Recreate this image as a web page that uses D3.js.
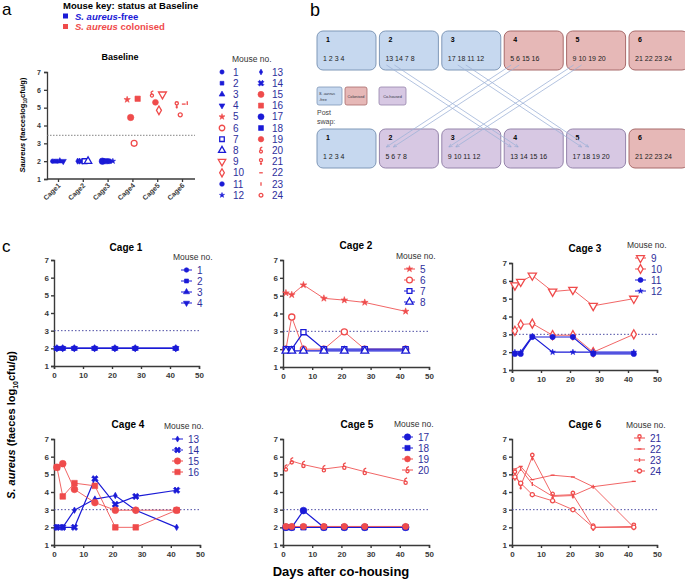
<!DOCTYPE html>
<html><head><meta charset="utf-8">
<script src="https://cdn.jsdelivr.net/npm/d3@7"></script>
<style>body{margin:0;background:#fff;} svg{display:block;font-family:"Liberation Sans",Arial,sans-serif;}</style>
</head><body><svg id="chart" width="685" height="581"></svg>
<script>
// ---------------- DATA ----------------
const freeMice = [1,2,3,4,7,8,11,12,13,14,17,18];
// panel a: baseline
const baselineCages = ["Cage1","Cage2","Cage3","Cage4","Cage5","Cage6"];
const baselineMice = [[1,2,3,4],[13,14,7,8],[17,18,11,12],[5,15,6,16],[20,19,10,9],[21,24,22,23]];
const baselineValues = [[2,2,2,2],[2,2,2,2],[2,2,2,2],[5.45,4.45,3.0,5.5],[5.75,5.3,4.85,5.75],[5.15,4.6,5.2,5.25]];
const baselineThreshold = 3.45;
// panel b: housing diagram
const housingCages = ["1","2","3","4","5","6"];
const topMice = [[1,2,3,4],[13,14,7,8],[17,18,11,12],[5,6,15,16],[9,10,19,20],[21,22,23,24]];
const bottomMice = [[1,2,3,4],[5,6,7,8],[9,10,11,12],[13,14,15,16],[17,18,19,20],[21,22,23,24]];
const topStatus = ["free","free","free","col","col","col"];
const bottomStatus = ["free","co","co","co","co","col"];
const swapFrom = [2,3,4,5];
const swapTo = [4,5,2,3];
const statusLabels = ["S. aureus -free","Colonised","Co-housed"];
// panel c: time course
const days = [1,3,7,14,21,28,42];
const cageTitles = ["Cage 1","Cage 2","Cage 3","Cage 4","Cage 5","Cage 6"];
const cageMice = [[1,2,3,4],[5,6,7,8],[9,10,11,12],[13,14,15,16],[17,18,19,20],[21,22,23,24]];
const cage1Values = [[2,2,2,2,2,2,2],[2,2,2,2,2,2,2],[2,2,2,2,2,2,2],[2,2,2,2,2,2,2]];
const cage2Values = [[5.15,5.05,5.6,4.85,4.75,4.62,4.12],[2,3.8,2,2,2.97,2,2],[2,2,2.95,2,2,2,2],[1.9,1.9,1.9,1.9,1.9,1.9,1.9]];
const cage3Values = [[5.75,5.95,6.3,5.4,5.5,4.6,5.0],[3.2,3.55,3.6,2.95,2.95,2.0,3.0],[1.9,1.9,2.85,2.85,2.85,1.9,1.9],[2,2,2.9,2,2,2,2]];
const cage4Values = [[2,2,2.97,3.6,3.8,2.97,2.0],[2,2,2,4.75,3.3,3.75,4.1],[5.4,5.6,4.15,3.4,2.97,2.97,2.97],[5.4,3.75,4.5,4.35,2.0,2.0,2.97]];
const cage5Values = [[2,2,2.95,2,2,2,2],[2,2,2,2,2,2,2],[2.05,2.05,2.05,2.05,2.05,2.05,2.05],[5.35,5.75,5.55,5.3,5.45,5.15,4.6]];
const cage6Values = [[5.05,4.35,6.0,3.8,3.85,2.0,2.05],[5.3,5.45,4.7,4.95,4.85,4.3,4.6],[4.75,5.3,4.45,3.75,3.8,4.3,2.0],[4.85,4.5,3.85,3.5,3.0,2.0,2.0]];
const cageValues = [cage1Values,cage2Values,cage3Values,cage4Values,cage5Values,cage6Values];
const threshold = 3;
const yTicks = [1,2,3,4,5,6,7];
const xTicks = [0,10,20,30,40,50];

// ---------------- STYLE ----------------
const RED = "#ef4b4b", BLUE = "#1a1ad6", LEG = "#2e2e9c", AX = "#3a3a3a";
const colorOf = id => freeMice.includes(id) ? BLUE : RED;
const markerSpec = {
 1:["circle",18,true],2:["square",18,true],3:["triangle",18,true],4:["triangleDown",18,true],
 5:["star",14,true],6:["circle",30,false],7:["square",26,false],8:["triangle",26,false],
 9:["triangleDown",30,false],10:["diamond",24,false],11:["circle",22,true],12:["star",10,true],
 13:["diamond",12,true],14:["x",26,true],15:["circle",36,true],16:["square",32,true],
 17:["circle",36,true],18:["square",30,true],19:["circle",30,true],20:["delta",30,false],
 21:["pin",30,false],22:["dash",16,false],23:["bar",16,false],24:["circle",14,false]};
const symDash = {draw(c,s){const r=Math.sqrt(s)/2;c.moveTo(-r,0);c.lineTo(r,0);}};
const symBar = {draw(c,s){const r=Math.sqrt(s)/2;c.moveTo(0,-r);c.lineTo(0,r);}};
const symPin = {draw(c,s){const r=Math.sqrt(s)/3.2;c.moveTo(r,-r);c.arc(0,-r,r,0,2*Math.PI);c.moveTo(0,0);c.lineTo(0,r*2.2);c.moveTo(-r*0.7,r*1.3);c.lineTo(r*0.7,r*1.3);}};
const symDelta = {draw(c,s){const r=Math.sqrt(s)/3.4;c.moveTo(r,r*0.8);c.arc(0,r*0.8,r,0,2*Math.PI);c.moveTo(-r*0.3,-r*0.2);c.quadraticCurveTo(-r*1.2,-r*1.6,r*0.9,-r*2.2);}};
const symMap = {circle:d3.symbolCircle,square:d3.symbolSquare,triangle:d3.symbolTriangle,triangleDown:d3.symbolTriangle,
 star:d3.symbolStar,diamond:d3.symbolDiamond,x:d3.symbolCross,delta:symDelta,pin:symPin,dash:symDash,bar:symBar};

const svg = d3.select("#chart");

function drawMarker(g, id, x, y, scale=1){
  const [type,size,filled] = markerSpec[id];
  const col = colorOf(id);
  const rot = type==="triangleDown"?180:(type==="x"?45:0);
  const strokeOnly = ["dash","bar","pin","delta"].includes(type);
  g.append("path").attr("d", d3.symbol().type(symMap[type]).size(size*scale)())
   .attr("transform",`translate(${x},${y}) rotate(${rot})`)
   .attr("fill", strokeOnly ? "none" : (filled ? col : "#fff"))
   .attr("stroke", col).attr("stroke-width", filled?0.6:1.3);
}

// ---------------- PANEL A ----------------
svg.append("text").attr("x",2).attr("y",15).attr("font-size",17).text("a");
svg.append("text").attr("x",63).attr("y",9).attr("font-size",9.5).attr("font-weight","bold").text("Mouse key: status at Baseline");
[[BLUE,["S. aureus","-free"]],[RED,["S. aureus"," colonised"]]].forEach((d,i)=>{
  const y = 19.5 + i*10.5;
  svg.append("rect").attr("x",63).attr("y",y-6).attr("width",5).attr("height",5).attr("fill",d[0]);
  const t = svg.append("text").attr("x",75).attr("y",y).attr("font-size",9.5).attr("font-weight","bold").attr("fill",d[0]);
  t.append("tspan").attr("font-style","italic").text(d[1][0]);
  t.append("tspan").text(d[1][1]);
});
const ax = d3.scalePoint().domain(baselineCages).range([58,182]);
const ay = d3.scaleLinear().domain([1,7]).range([179,72]);
const ga = svg.append("g");
ga.append("text").attr("x",120).attr("y",60).attr("text-anchor","middle").attr("font-size",9).attr("font-weight","bold").text("Baseline");
const gay = ga.append("g").attr("transform","translate(47,0)").call(d3.axisLeft(ay).tickValues(yTicks).tickSize(3).tickFormat(d3.format("d")));
const gax = ga.append("g").attr("transform","translate(0,179)").call(d3.axisBottom(ax).tickSize(3).tickFormat(""));
gax.select(".domain").attr("d","M47,0H195");
[gay,gax].forEach(g=>{g.selectAll(".domain,line").attr("stroke",AX).attr("stroke-width",1.3);g.selectAll("text").attr("font-size",7).attr("font-weight","bold").attr("fill",AX).attr("font-family","Liberation Sans, Arial");});
baselineCages.forEach(c=>{
  ga.append("text").attr("transform",`translate(${ax(c)+3},${186}) rotate(-45)`).attr("text-anchor","end")
    .attr("font-size",7).attr("font-weight","bold").attr("fill",AX).text(c);
});
ga.append("line").attr("x1",47).attr("x2",195).attr("y1",ay(baselineThreshold)).attr("y2",ay(baselineThreshold))
  .attr("stroke","#777").attr("stroke-width",0.9).attr("stroke-dasharray","1.5,1.5");
baselineMice.forEach((ms,ci)=>{
  ms.forEach((m,j)=>{
    drawMarker(ga, m, ax(baselineCages[ci]) + (j-1.5)*3.5, ay(baselineValues[ci][j]), 0.9);
  });
});
{
  const t = ga.append("text").attr("transform","translate(25,125) rotate(-90)").attr("text-anchor","middle")
    .attr("font-size",7.5).attr("font-weight","bold");
  t.append("tspan").attr("font-style","italic").text("Saureus");
  t.append("tspan").text(" (faeceslog");
  t.append("tspan").attr("font-size",5).attr("dy",2).text("10");
  t.append("tspan").attr("dy",-2).text("cfu/g)");
}
// legend a
ga.append("text").attr("x",232).attr("y",62).attr("font-size",8.5).attr("fill","#333").text("Mouse no.");
d3.range(1,25).forEach(id=>{
  const col = id<=12?0:1, row = (id-1)%12;
  const y = 72 + row*11.2;
  const x = col===0?222:261;
  drawMarker(ga,id,x,y,0.8);
  ga.append("text").attr("x",x+11).attr("y",y+3.5).attr("font-size",10).attr("fill",LEG).text(id);
});

// ---------------- PANEL B ----------------
const gb = svg.append("g");
gb.append("text").attr("x",310).attr("y",16).attr("font-size",18).text("b");
const bx = d3.scaleBand().domain(housingCages).range([317,688]).paddingInner(0.055);
const fills = {free:"#c6d8ef",col:"#e6b8b7",co:"#d7c8e3"};
const strokes = {free:"#7f98b8",col:"#a86a6a",co:"#9584ab"};
function row(y, mice, status){
  housingCages.forEach((c,i)=>{
    gb.append("rect").attr("x",bx(c)).attr("y",y).attr("width",bx.bandwidth()).attr("height",39).attr("rx",6)
      .attr("fill",fills[status[i]]).attr("stroke",strokes[status[i]]).attr("stroke-width",1);
    gb.append("text").attr("x",bx(c)+9).attr("y",y+11).attr("font-size",7).attr("font-weight","bold").text(c);
    gb.append("text").attr("x",bx(c)+6).attr("y",y+30).attr("font-size",7).attr("fill","#222").text(mice[i].join(" "));
  });
}
row(31, topMice, topStatus);
row(129, bottomMice, bottomStatus);
// status legend
[["free",317,25],["col",345,22],["co",379,27]].forEach((d,i)=>{
  gb.append("rect").attr("x",d[1]).attr("y",87).attr("width",d[2]).attr("height",18).attr("rx",2)
    .attr("fill",fills[d[0]]).attr("stroke",strokes[d[0]]).attr("stroke-width",0.8);
  const lab = statusLabels[i];
  if(i===0){
    gb.append("text").attr("x",d[1]+2).attr("y",95).attr("font-size",3.8).attr("font-style","italic").attr("fill","#334").text("S. aureus");
    gb.append("text").attr("x",d[1]+2).attr("y",100.5).attr("font-size",3.8).attr("fill","#334").text("-free");
  } else {
    gb.append("text").attr("x",d[1]+d[2]/2).attr("y",97.5).attr("text-anchor","middle").attr("font-size",3.8).attr("fill","#334").text(lab);
  }
});
gb.append("text").attr("x",317).attr("y",115).attr("font-size",7).attr("fill","#444").text("Post");
gb.append("text").attr("x",317).attr("y",124).attr("font-size",7).attr("fill","#444").text("swap:");
const defs = svg.append("defs");
defs.append("marker").attr("id","ah").attr("viewBox","0 0 10 10").attr("refX",9).attr("refY",5)
  .attr("markerWidth",5).attr("markerHeight",5).attr("orient","auto")
  .append("path").attr("d","M0,1L9,5L0,9").attr("fill","none").attr("stroke","#8fa6cf").attr("stroke-width",1.2);
swapFrom.forEach((f,i)=>{
  const t = swapTo[i];
  [0,1].forEach(k=>{
    const off = (f===3?16:7) + k*8;
    gb.append("line").attr("x1",bx(String(f))+off).attr("y1",65)
      .attr("x2",bx(String(t))+(t===5?15:7)+k*7).attr("y2",147)
      .attr("stroke","#9fb4d8").attr("stroke-width",0.8).attr("marker-end","url(#ah)");
  });
});

// ---------------- PANEL C ----------------
svg.append("text").attr("x",2).attr("y",252).attr("font-size",17).text("c");
const layouts = [
 {x0:54,x1:199,yt:260,yb:366,tx:126,ty:251,lx:173,ly:260},
 {x0:283,x1:429,yt:260,yb:367,tx:356,ty:249,lx:396,ly:259},
 {x0:512,x1:657,yt:263,yb:370,tx:585,ty:252,lx:627,ly:248},
 {x0:54,x1:200,yt:439,yb:545,tx:128,ty:428,lx:164,ly:429},
 {x0:283,x1:429,yt:439,yb:545,tx:357,ty:428,lx:394,ly:427},
 {x0:512,x1:657,yt:439,yb:545,tx:585,ty:428,lx:626,ly:428}
];
cageTitles.forEach((title,ci)=>{
  const L = layouts[ci];
  const g = svg.append("g");
  const x = d3.scaleLinear().domain([0,50]).range([L.x0,L.x1]);
  const y = d3.scaleLinear().domain([1,7]).range([L.yb,L.yt]);
  const gy = g.append("g").attr("transform",`translate(${L.x0},0)`).call(d3.axisLeft(y).tickValues(yTicks).tickSize(3).tickFormat(d3.format("d")));
  const gx = g.append("g").attr("transform",`translate(0,${L.yb})`).call(d3.axisBottom(x).tickValues(xTicks).tickSize(3).tickFormat(d3.format("d")));
  [gy,gx].forEach(a=>{a.selectAll(".domain,line").attr("stroke",AX).attr("stroke-width",1.4);
    a.selectAll("text").attr("font-size",8).attr("font-weight","bold").attr("fill",AX).attr("font-family","Liberation Sans, Arial");});
  gy.selectAll("text").attr("dx",1);
  g.append("line").attr("x1",x(0)).attr("x2",x(50)).attr("y1",y(threshold)).attr("y2",y(threshold))
    .attr("stroke","#3a3a9a").attr("stroke-width",0.9).attr("stroke-dasharray","1.5,2");
  g.append("text").attr("x",L.tx).attr("y",L.ty).attr("text-anchor","middle").attr("font-size",10).attr("font-weight","bold").text(title);
  g.append("text").attr("x",L.lx).attr("y",L.ly).attr("font-size",8.5).attr("fill","#333").text("Mouse no.");
  const line = d3.line().x((d,i)=>x(days[i])).y(d=>y(d));
  cageMice[ci].forEach((m,j)=>{
    const vals = cageValues[ci][j];
    const col = colorOf(m);
    g.append("path").attr("d",line(vals)).attr("fill","none").attr("stroke",col)
      .attr("stroke-width",col===BLUE?1.2:0.9).attr("opacity",col===BLUE?1:0.95);
    vals.forEach((v,k)=>drawMarker(g,m,x(days[k]),y(v),1));
    // legend
    const ly = L.ly + 10 + j*11;
    const lx = L.lx + 8;
    g.append("line").attr("x1",lx).attr("x2",lx+11).attr("y1",ly).attr("y2",ly).attr("stroke",col).attr("stroke-width",1);
    drawMarker(g,m,lx+5.5,ly,0.9);
    g.append("text").attr("x",lx+16).attr("y",ly+3.5).attr("font-size",10).attr("fill",LEG).text(m);
  });
});
{
  const t = svg.append("text").attr("transform","translate(15,425) rotate(-90)").attr("text-anchor","middle")
    .attr("font-size",11).attr("font-weight","bold");
  t.append("tspan").attr("font-style","italic").text("S. aureus");
  t.append("tspan").text(" (faeces log");
  t.append("tspan").attr("font-size",7).attr("dy",3).text("10");
  t.append("tspan").attr("dy",-3).text("cfu/g)");
}
svg.append("text").attr("x",341).attr("y",576).attr("text-anchor","middle").attr("font-size",13).attr("font-weight","bold").text("Days after co-housing");
</script></body></html>
